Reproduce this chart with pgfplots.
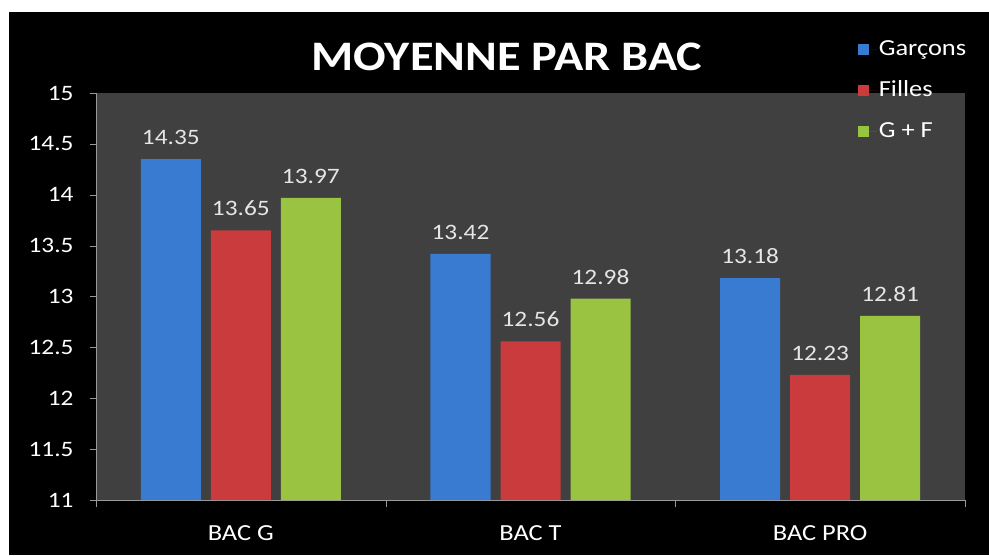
\documentclass[border=0pt]{standalone}
\usepackage{pgfplots}
\pgfplotsset{compat=1.18}
\usepackage{fontspec}
\setmainfont{Carlito}[FakeStretch=1.15]
\definecolor{plotbg}{HTML}{404040}
\definecolor{axgray}{HTML}{9A9A9A}
\definecolor{cblue}{HTML}{3A7BD2}
\definecolor{cred}{HTML}{CA3B3D}
\definecolor{cgreen}{HTML}{9AC342}
\definecolor{lbl}{HTML}{E6E6E6}
\begin{document}
\begin{tikzpicture}[x=1pt,y=1pt]
\fill[white] (0,0) rectangle (989,555);
\fill[black] (9,0) rectangle (989,543);
\node[text=white,font=\fontsize{42}{46}\selectfont\bfseries] at (507,498) {MOYENNE PAR BAC};
\begin{axis}[
  at={(96pt,55pt)}, anchor=south west,
  scale only axis, width=869pt, height=407pt,
  ybar=10pt, bar width=60pt,
  xmin=-0.5, xmax=2.5, ymin=11, ymax=15,
  xtick={0,1,2}, xticklabels={BAC G,BAC T,BAC PRO},
  minor xtick={-0.5,0.5,1.5,2.5},
  major x tick style={draw=none},
  minor x tick style={axgray},
  minor tick length=7pt,
  ytick={11,11.5,...,15},
  major tick length=6pt,
  tick align=outside,
  y tick style={axgray},
  axis x line*=bottom, axis y line*=left,
  axis line style={axgray, line width=0.8pt},
  axis background/.style={fill=plotbg},
  /pgf/number format/.cd, fixed, precision=2, assume math mode=true,
  /pgfplots/.cd,
  yticklabel style={text=white, font=\fontsize{22}{24}\selectfont, xshift=-13pt},
  xticklabel style={text=white, font=\fontsize{23}{26}\selectfont, yshift=-16pt},
  nodes near coords,
  every node near coord/.append style={text=lbl, font=\fontsize{22}{24}\selectfont, inner sep=0pt, anchor=south, yshift=14pt},
  legend image code/.code={\fill[#1,draw=none] (0pt,-5pt) rectangle (11pt,6pt); \path[draw=none] (0pt,0pt) -- (19pt,0pt);},
  legend style={at={(0.873,1.143)}, anchor=north west, draw=none, fill=none,
    text=white, font=\fontsize{23}{25}\selectfont, row sep=16pt,
    nodes={inner sep=2pt, text height=16pt, text depth=5pt, anchor=west}},
  legend cell align=left,
]
\addplot[fill=cblue, draw=none] coordinates {(0,14.35) (1,13.42) (2,13.18)};
\addplot[fill=cred, draw=none] coordinates {(0,13.65) (1,12.56) (2,12.23)};
\addplot[fill=cgreen, draw=none] coordinates {(0,13.97) (1,12.98) (2,12.81)};
\legend{Garçons, Filles, G + F}
\end{axis}
\pgfresetboundingbox
\useasboundingbox (0,0) rectangle (989,555);
\end{tikzpicture}
\end{document}
